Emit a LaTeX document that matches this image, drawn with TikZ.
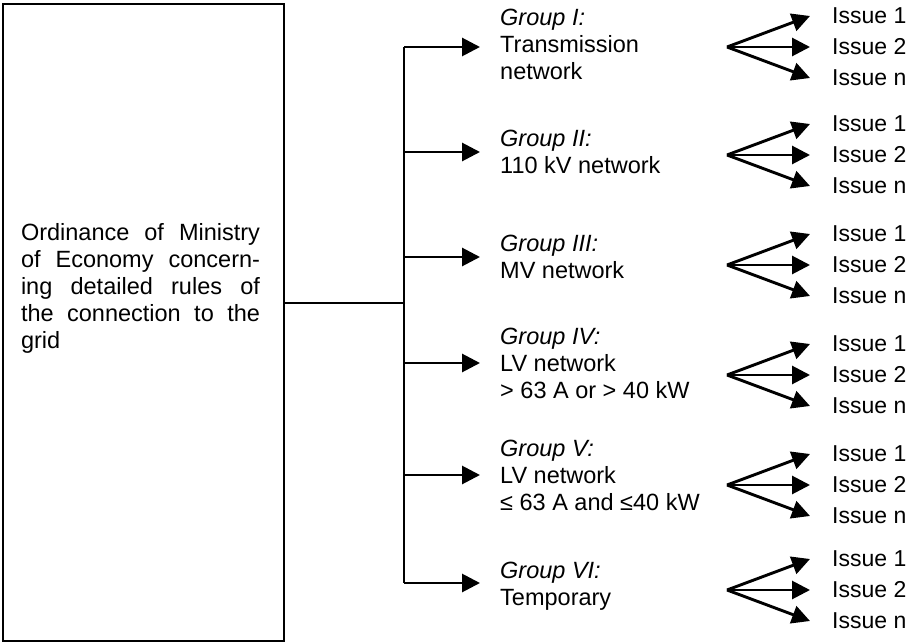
\documentclass[tikz,border=0pt]{standalone}
\usepackage{fontspec}
\setmainfont{Liberation Sans}
\usetikzlibrary{arrows.meta}
\newcommand{\fullline}[1]{\makebox[239pt][l]{#1}}
\begin{document}
\begin{tikzpicture}[x=1pt,y=-1pt,
  every node/.style={inner sep=0pt, font=\fontsize{23.5}{27}\selectfont},
  frame/.style={draw, line width=1.8pt},
  busline/.style={line width=1.7pt},
  feed/.style={line width=2.9pt, -{Triangle[length=18pt,width=18pt]}},
  grouplabel/.style={anchor=west, align=left, inner xsep=20pt},
  issue/.style={anchor=west, inner xsep=22pt, font=\fontsize{23}{27}\selectfont},
]
\useasboundingbox (0,0) rectangle (909,644);

% ordinance box, text justified line by line
\node[frame, minimum width=281pt, minimum height=637pt] (ord) at (143.5,322.5) {};
\node[text width=239pt, align=left] (ordtext) at (140.5,288)
  {\fullline{Ordinance\hfill of\hfill Ministry}\\
   \fullline{of\hfill Economy\hfill concern-}\\
   \fullline{ing\hfill detailed\hfill rules\hfill of}\\
   \fullline{the\hfill connection\hfill to\hfill the}\\
   grid};

% distribution bus
\coordinate (b1) at (404,47);
\coordinate (b2) at (404,152);
\coordinate (b3) at (404,257);
\coordinate (b4) at (404,363);
\coordinate (b5) at (404,475);
\coordinate (b6) at (404,583);
\coordinate (junc) at (404,303);
\draw[busline] (b1) -- (b6);
\draw[busline] (ord.east |- junc) -- (junc);

% groups
\node[grouplabel] (g1) at (480,44)  {\textit{Group I:}\\Transmission\\network};
\node[grouplabel] (g2) at (480,152) {\textit{Group II:}\\110 kV network};
\node[grouplabel] (g3) at (480,257) {\textit{Group III:}\\MV network};
\node[grouplabel] (g4) at (480,363) {\textit{Group IV:}\\LV network\\> 63 A or > 40 kW};
\node[grouplabel] (g5) at (480,475) {\textit{Group V:}\\LV network\\≤ 63 A and ≤40 kW};
\node[grouplabel] (g6) at (480,586) {\textit{Group VI:}\\Temporary};
\foreach \k in {1,...,6}
  \draw[feed] (b\k) -- (b\k -| g\k.west);

% issues fanning out of each group
\foreach \k/\y in {1/47,2/155,3/265,4/375,5/485,6/590} {
  \coordinate (f\k) at (727,\y);
  \node[issue] (i\k a) at (810,\y-31) {Issue 1};
  \node[issue] (i\k b) at (810,\y)    {Issue 2};
  \node[issue] (i\k c) at (810,\y+31) {Issue n};
  \draw[feed] (f\k) -- (i\k a.west);
  \draw[feed] (f\k) -- (i\k b.west);
  \draw[feed] (f\k) -- (i\k c.west);
}
\end{tikzpicture}
\end{document}
